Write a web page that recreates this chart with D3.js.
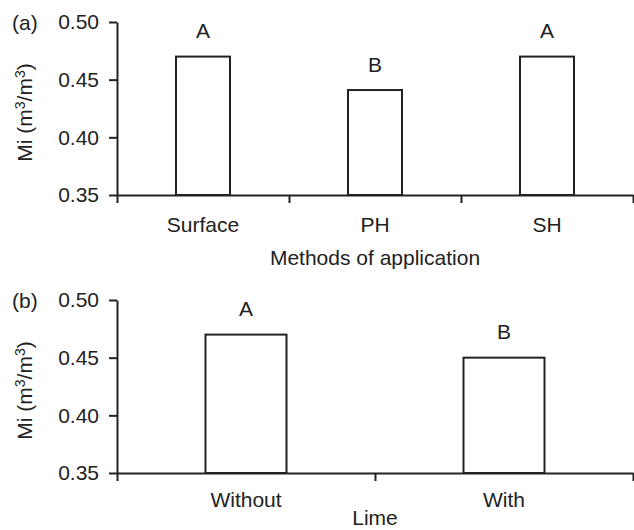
<!DOCTYPE html>
<html><head><meta charset="utf-8">
<script src="https://cdn.jsdelivr.net/npm/d3@7"></script>
<style>
html,body{margin:0;padding:0;background:#fff;}
svg{display:block;font-family:"Liberation Sans",Arial,Helvetica,sans-serif;}
</style></head>
<body><svg id="c" width="634" height="530"></svg>
<script>
const methodCategories = ["Surface", "PH", "SH"];
const methodValues = [0.47, 0.441, 0.47];
const methodLetters = ["A", "B", "A"];
const limeCategories = ["Without", "With"];
const limeValues = [0.47, 0.45];
const limeLetters = ["A", "B"];
const yTicks = [0.35, 0.40, 0.45, 0.50];
const yDomain = [0.35, 0.50];

const svg = d3.select("#c");
const ink = "#222";
const fs = 21;
const x0 = 117, x1 = 633;

function panel(opts) {
  const {cats, vals, letters, top, bottom, tag, xTitle, xTitleY, tickLabelY} = opts;
  const g = svg.append("g");
  const y = d3.scaleLinear().domain(yDomain).range([bottom, top]);
  const xb = d3.scaleBand().domain(cats).range([x0, x1]).paddingInner(0).paddingOuter(0);
  const xl = d3.scaleLinear().domain([0, cats.length]).range([x0, x1]);

  const bw = xb.bandwidth() * 0.314;
  g.selectAll("rect.bar").data(cats).join("rect")
    .attr("x", d => xb(d) + xb.bandwidth()/2 - bw/2)
    .attr("y", (d,i) => y(vals[i]))
    .attr("width", bw)
    .attr("height", (d,i) => bottom - y(vals[i]))
    .attr("fill", "#fff").attr("stroke", ink).attr("stroke-width", 2);

  g.selectAll("text.letter").data(cats).join("text")
    .attr("x", d => xb(d) + xb.bandwidth()/2)
    .attr("y", (d,i) => y(vals[i]) - 18.5)
    .attr("text-anchor", "middle").attr("font-size", fs).attr("fill", ink)
    .text((d,i) => letters[i]);

  const ya = g.append("g").attr("transform", `translate(${x0},0)`)
    .call(d3.axisLeft(y).tickValues(yTicks).tickFormat(d3.format(".2f")).tickSize(8).tickPadding(10).tickSizeOuter(0));
  const xa = g.append("g").attr("transform", `translate(0,${bottom})`)
    .call(d3.axisBottom(xl).tickValues(d3.range(cats.length + 1)).tickFormat("").tickSize(8).tickSizeOuter(0));
  g.selectAll("text.cat").data(cats).join("text")
    .attr("x", d => xb(d) + xb.bandwidth()/2)
    .attr("y", tickLabelY)
    .attr("text-anchor", "middle").attr("font-size", fs).attr("fill", ink)
    .text(d => d);

  [ya, xa].forEach(a => {
    a.attr("font-family", null);
    a.selectAll("path.domain").attr("stroke", ink).attr("stroke-width", 2);
    a.selectAll(".tick line").attr("stroke", ink).attr("stroke-width", 2);
    a.selectAll(".tick text").attr("font-size", fs).attr("fill", ink);
  });

  g.append("text").attr("x", (x0 + x1)/2).attr("y", xTitleY)
    .attr("text-anchor", "middle").attr("font-size", fs).attr("fill", ink).text(xTitle);

  const cy = (top + bottom)/2 + 4;
  const yt = g.append("text").attr("transform", `translate(32,${cy}) rotate(-90)`)
    .attr("text-anchor", "middle").attr("font-size", fs).attr("fill", ink);
  yt.append("tspan").text("Mi (m");
  yt.append("tspan").attr("font-size", 14).attr("dy", -7).text("3");
  yt.append("tspan").attr("dy", 7).text("/m");
  yt.append("tspan").attr("font-size", 14).attr("dy", -7).text("3");
  yt.append("tspan").attr("dy", 7).text(")");

  g.append("text").attr("x", 12).attr("y", top + 7.5).attr("font-size", fs).attr("fill", ink).text(tag);
}

panel({cats: methodCategories, vals: methodValues, letters: methodLetters,
  top: 22, bottom: 195, tag: "(a)", xTitle: "Methods of application", xTitleY: 265, tickLabelY: 231.5});
panel({cats: limeCategories, vals: limeValues, letters: limeLetters,
  top: 300, bottom: 473, tag: "(b)", xTitle: "Lime", xTitleY: 525, tickLabelY: 507});
</script>
</body></html>
